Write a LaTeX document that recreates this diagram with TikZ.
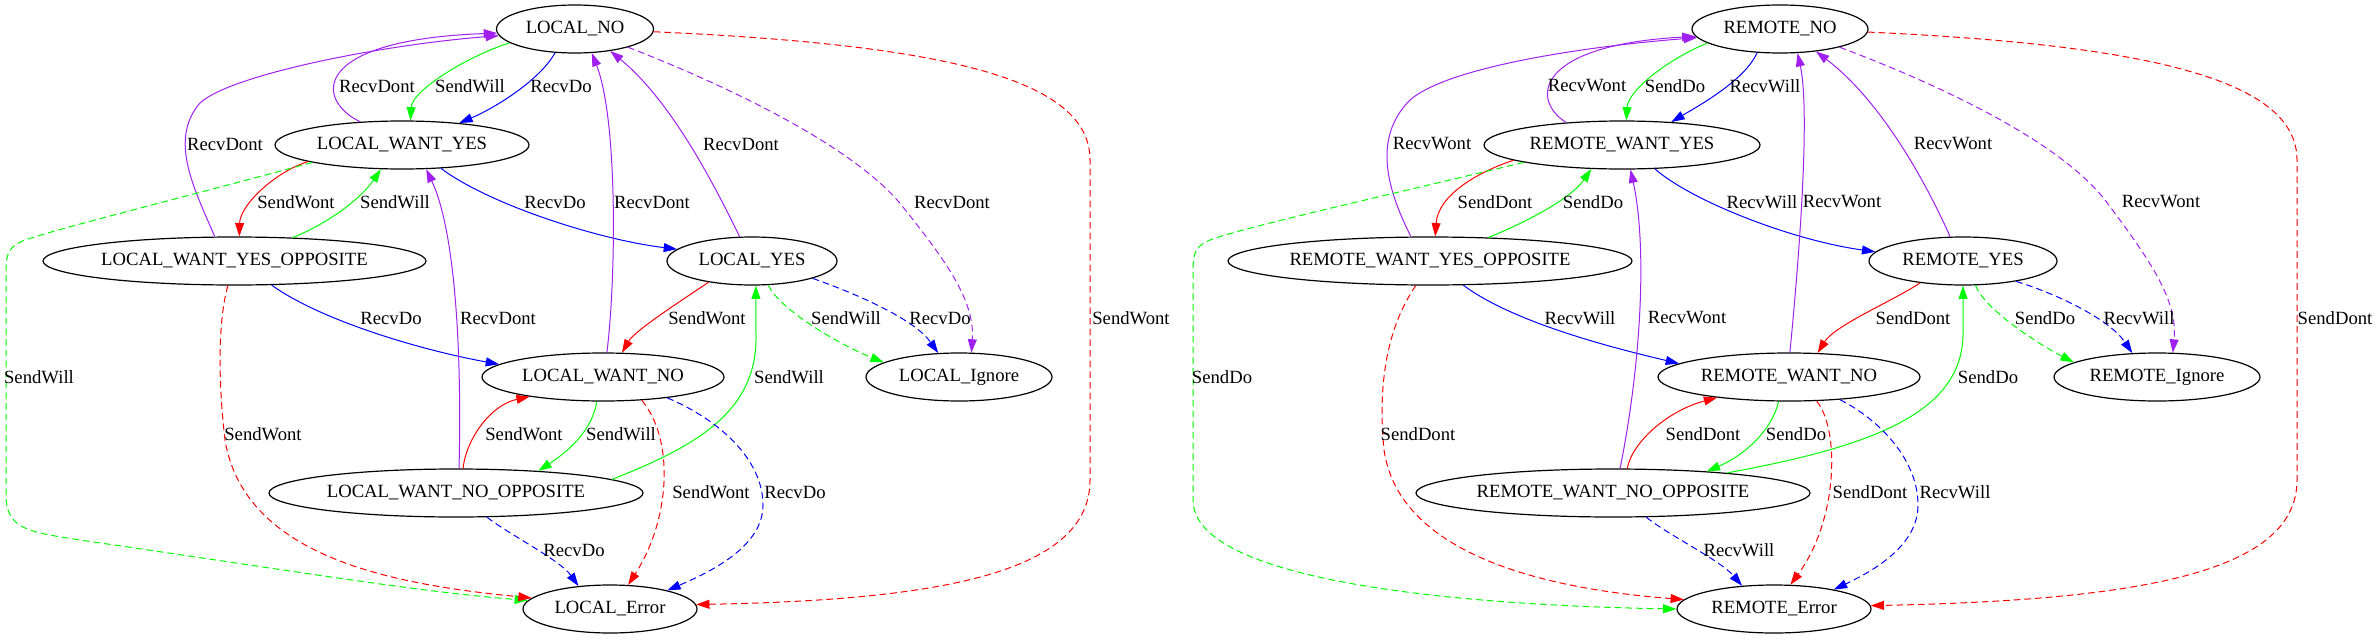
\documentclass[tikz,border=0pt]{standalone}
\usepackage{fontspec}
\setmainfont{Liberation Serif}
\usetikzlibrary{shapes.geometric,arrows.meta}
\definecolor{gvred}{RGB}{255,0,0}
\definecolor{gvgreen}{RGB}{0,255,0}
\definecolor{gvblue}{RGB}{0,0,255}
\definecolor{gvpurple}{RGB}{160,32,240}
\newcommand{\tx}[1]{\makebox[0pt][c]{#1}}
\tikzset{
  st/.style={ellipse, draw=black, line width=0.9pt, inner sep=0pt, minimum height=36pt, font=\fontsize{14pt}{16pt}\selectfont},
  lbl/.style={inner sep=0pt, font=\fontsize{14pt}{16pt}\selectfont},
  ed/.style={line width=0.75pt, -{Triangle[length=10pt,width=6.7pt]}},
  eg/.style={ed, draw=gvgreen},
  eb/.style={ed, draw=gvblue},
  er/.style={ed, draw=gvred},
  ep/.style={ed, draw=gvpurple},
  dsh/.style={dash pattern=on 5pt off 3pt},
}
\begin{document}
\begin{tikzpicture}[x=0.75pt, y=-0.75pt]
\useasboundingbox (0,0) rectangle (2379,639);
% ---------------- LOCAL nodes
\node[st, minimum width=117.75pt] (lno)   at (575,29)    {\tx{LOCAL\_NO}};
\node[st, minimum width=190.5pt]  (lwy)   at (402,145)   {\tx{LOCAL\_WANT\_YES}};
\node[st, minimum width=287.25pt] (lwyo)  at (234.5,261) {\tx{LOCAL\_WANT\_YES\_OPPOSITE}};
\node[st, minimum width=127.5pt]  (lyes)  at (752,261)   {\tx{LOCAL\_YES}};
\node[st, minimum width=181.5pt]  (lwn)   at (603,377)   {\tx{LOCAL\_WANT\_NO}};
\node[st, minimum width=139.5pt]  (lign)  at (959,377)   {\tx{LOCAL\_Ignore}};
\node[st, minimum width=280.5pt]  (lwno)  at (456,493)   {\tx{LOCAL\_WANT\_NO\_OPPOSITE}};
\node[st, minimum width=130.5pt]  (lerr)  at (610,609)   {\tx{LOCAL\_Error}};
% ---------------- REMOTE nodes
\node[st, minimum width=132pt]    (rno)   at (1780,29)   {\tx{REMOTE\_NO}};
\node[st, minimum width=207pt]    (rwy)   at (1622,145)  {\tx{REMOTE\_WANT\_YES}};
\node[st, minimum width=303pt]    (rwyo)  at (1430,261)  {\tx{REMOTE\_WANT\_YES\_OPPOSITE}};
\node[st, minimum width=141pt]    (ryes)  at (1963,261)  {\tx{REMOTE\_YES}};
\node[st, minimum width=196.5pt]  (rwn)   at (1789,377)  {\tx{REMOTE\_WANT\_NO}};
\node[st, minimum width=154.5pt]  (rign)  at (2157,377)  {\tx{REMOTE\_Ignore}};
\node[st, minimum width=295.5pt]  (rwno)  at (1613,493)  {\tx{REMOTE\_WANT\_NO\_OPPOSITE}};
\node[st, minimum width=145.5pt]  (rerr)  at (1774,609)  {\tx{REMOTE\_Error}};
% ---------------- LOCAL edges
\draw[eg] (lno.192) .. controls (470,55) and (412,90) .. (lwy.71);
\draw[eb] (lno.230) .. controls (540,80) and (495,108) .. (lwy.21);
\draw[ep] (lwy.151) .. controls (315,100) and (310,40) .. (lno.183);
\draw[ep] (lwyo.129) .. controls (195,190) and (168,140) .. (200,103) .. controls (230,75) and (380,45) .. (lno.185);
\draw[er] (lwy.190) .. controls (275,172) and (240,205) .. (lwyo.79);
\draw[eg] (lwyo.22) .. controls (325,225) and (360,200) .. (lwy.229);
\draw[eb] (lwy.329) .. controls (490,205) and (600,240) .. (lyes.171);
\draw[ep] (lwn.81) .. controls (616,280) and (618,120) .. (lno.305);
\draw[ep] (lyes.117) .. controls (712,180) and (670,100) .. (lno.328);
\draw[ep,dsh] (lno.341) .. controls (700,75) and (850,140) .. (903,207) .. controls (945,260) and (975,300) .. (lign.63);
\draw[er,dsh] (lno.358) .. controls (950,45) and (1090,80) .. (1090,160) -- (1090,480) .. controls (1090,570) and (950,600) .. (lerr.3);
\draw[eg,dsh] (lwy.191) .. controls (200,193) and (60,228) .. (25,240) .. controls (10,246) and (6,252) .. (6,270) -- (6,495) .. controls (6,530) and (30,532) .. (80,540) .. controls (300,572) and (420,592) .. (lerr.174);
\draw[er] (lyes.206) .. controls (690,295) and (635,330) .. (lwn.52);
\draw[eg] (lwno.5) .. controls (700,445) and (755,410) .. (756,340) -- (lyes.279);
\draw[eg,dsh] (lyes.304) .. controls (780,310) and (840,345) .. (lign.169);
\draw[eb,dsh] (lyes.344) .. controls (860,295) and (915,320) .. (lign.131);
\draw[eb] (lwyo.327) .. controls (320,320) and (420,350) .. (lwn.173);
\draw[ep] (lwno.83) .. controls (462,350) and (455,230) .. (lwy.315);
\draw[er,dsh] (lwyo.255) .. controls (218,320) and (218,380) .. (225,440) .. controls (245,560) and (400,585) .. (lerr.172);
\draw[er] (lwno.74) .. controls (466,440) and (490,405) .. (lwn.195);
\draw[eg] (lwn.256) .. controls (592,430) and (570,450) .. (lwno.15);
\draw[er,dsh] (lwn.329) .. controls (675,440) and (670,520) .. (lerr.53);
\draw[eb,dsh] (lwn.342) .. controls (720,420) and (763,460) .. (763,505) .. controls (763,545) and (715,570) .. (lerr.18);
\draw[eb,dsh] (lwno.322) .. controls (510,535) and (560,560) .. (lerr.144);
% ---------------- LOCAL labels
\node[lbl] (a01) at (377,86)  {RecvDont};
\node[lbl] (a02) at (470,86)  {SendWill};
\node[lbl] (a03) at (561,86)  {RecvDo};
\node[lbl] (a04) at (225,144) {RecvDont};
\node[lbl] (a05) at (741,144) {RecvDont};
\node[lbl] (a06) at (296,202) {SendWont};
\node[lbl] (a07) at (395,202) {SendWill};
\node[lbl] (a08) at (555,202) {RecvDo};
\node[lbl] (a09) at (652,202) {RecvDont};
\node[lbl] (a10) at (952,202) {RecvDont};
\node[lbl] (a11) at (391,318) {RecvDo};
\node[lbl] (a12) at (498,318) {RecvDont};
\node[lbl] (a13) at (707,318) {SendWont};
\node[lbl] (a14) at (846,318) {SendWill};
\node[lbl] (a15) at (940,318) {RecvDo};
\node[lbl] (a16) at (1131,318) {SendWont};
\node[lbl] (a17) at (39,377)  {SendWill};
\node[lbl] (a18) at (789,377) {SendWill};
\node[lbl] (a19) at (263,434) {SendWont};
\node[lbl] (a20) at (524,434) {SendWont};
\node[lbl] (a21) at (621,434) {SendWill};
\node[lbl] (a22) at (711,492) {SendWont};
\node[lbl] (a23) at (795,492) {RecvDo};
\node[lbl] (a24) at (574,550) {RecvDo};
% ---------------- REMOTE edges
\draw[eg] (rno.191) .. controls (1670,58) and (1628,90) .. (rwy.80);
\draw[eb] (rno.226) .. controls (1745,80) and (1700,105) .. (rwy.25);
\draw[ep] (rwy.158) .. controls (1530,100) and (1535,45) .. (rno.185);
\draw[ep] (rwyo.128) .. controls (1390,195) and (1370,140) .. (1410,100) .. controls (1450,65) and (1600,45) .. (rno.186);
\draw[er] (rwy.188) .. controls (1478,172) and (1438,195) .. (rwyo.78);
\draw[eg] (rwyo.22) .. controls (1520,225) and (1570,200) .. (rwy.218);
\draw[eb] (rwy.324) .. controls (1690,200) and (1790,240) .. (ryes.174);
\draw[ep] (rwn.88) .. controls (1800,250) and (1810,110) .. (rno.306);
\draw[ep] (ryes.118) .. controls (1925,180) and (1880,100) .. (rno.328);
\draw[ep,dsh] (rno.343) .. controls (1900,70) and (2050,130) .. (2105,200) .. controls (2150,260) and (2178,300) .. (rign.57);
\draw[er,dsh] (rno.358) .. controls (2150,45) and (2297,80) .. (2297,160) -- (2297,480) .. controls (2297,570) and (2150,600) .. (rerr.2);
\draw[eg,dsh] (rwy.190) .. controls (1410,190) and (1240,228) .. (1210,240) .. controls (1196,246) and (1193,252) .. (1193,270) -- (1193,500) .. controls (1193,580) and (1450,605) .. (rerr.180);
\draw[er] (ryes.207) .. controls (1895,300) and (1835,325) .. (rwn.40);
\draw[eg] (rwno.10) .. controls (1880,445) and (1965,410) .. (1963,330) -- (ryes.270);
\draw[eg,dsh] (ryes.297) .. controls (1985,310) and (2040,345) .. (rign.170);
\draw[eb,dsh] (ryes.339) .. controls (2060,295) and (2110,320) .. (rign.136);
\draw[eb] (rwyo.324) .. controls (1510,320) and (1600,345) .. (rwn.173);
\draw[ep] (rwno.74) .. controls (1640,370) and (1648,250) .. (rwy.289);
\draw[er,dsh] (rwyo.240) .. controls (1385,330) and (1378,390) .. (1384,450) .. controls (1400,560) and (1560,590) .. (rerr.174);
\draw[er] (rwno.60) .. controls (1633,440) and (1670,410) .. (rwn.196);
\draw[eg] (rwn.247) .. controls (1772,430) and (1745,455) .. (rwno.13);
\draw[er,dsh] (rwn.319) .. controls (1840,430) and (1838,520) .. (rerr.56);
\draw[eb,dsh] (rwn.336) .. controls (1880,420) and (1918,460) .. (1918,505) .. controls (1918,545) and (1875,570) .. (rerr.18);
\draw[eb,dsh] (rwno.324) .. controls (1668,535) and (1720,560) .. (rerr.144);
% ---------------- REMOTE labels
\node[lbl] (b01) at (1587,86)  {RecvWont};
\node[lbl] (b02) at (1675,86)  {SendDo};
\node[lbl] (b03) at (1765,86)  {RecvWill};
\node[lbl] (b04) at (1432,144) {RecvWont};
\node[lbl] (b05) at (1953,144) {RecvWont};
\node[lbl] (b06) at (1495,202) {SendDont};
\node[lbl] (b07) at (1593,202) {SendDo};
\node[lbl] (b08) at (1762,202) {RecvWill};
\node[lbl] (b09) at (1842,202) {RecvWont};
\node[lbl] (b10) at (2161,202) {RecvWont};
\node[lbl] (b11) at (1580,318) {RecvWill};
\node[lbl] (b12) at (1687,318) {RecvWont};
\node[lbl] (b13) at (1913,318) {SendDont};
\node[lbl] (b14) at (2045,318) {SendDo};
\node[lbl] (b15) at (2139,318) {RecvWill};
\node[lbl] (b16) at (2335,318) {SendDont};
\node[lbl] (b17) at (1222,377) {SendDo};
\node[lbl] (b18) at (1988,377) {SendDo};
\node[lbl] (b19) at (1418,434) {SendDont};
\node[lbl] (b20) at (1703,434) {SendDont};
\node[lbl] (b21) at (1796,434) {SendDo};
\node[lbl] (b22) at (1870,492) {SendDont};
\node[lbl] (b23) at (1955,492) {RecvWill};
\node[lbl] (b24) at (1739,550) {RecvWill};
\end{tikzpicture}
\end{document}
